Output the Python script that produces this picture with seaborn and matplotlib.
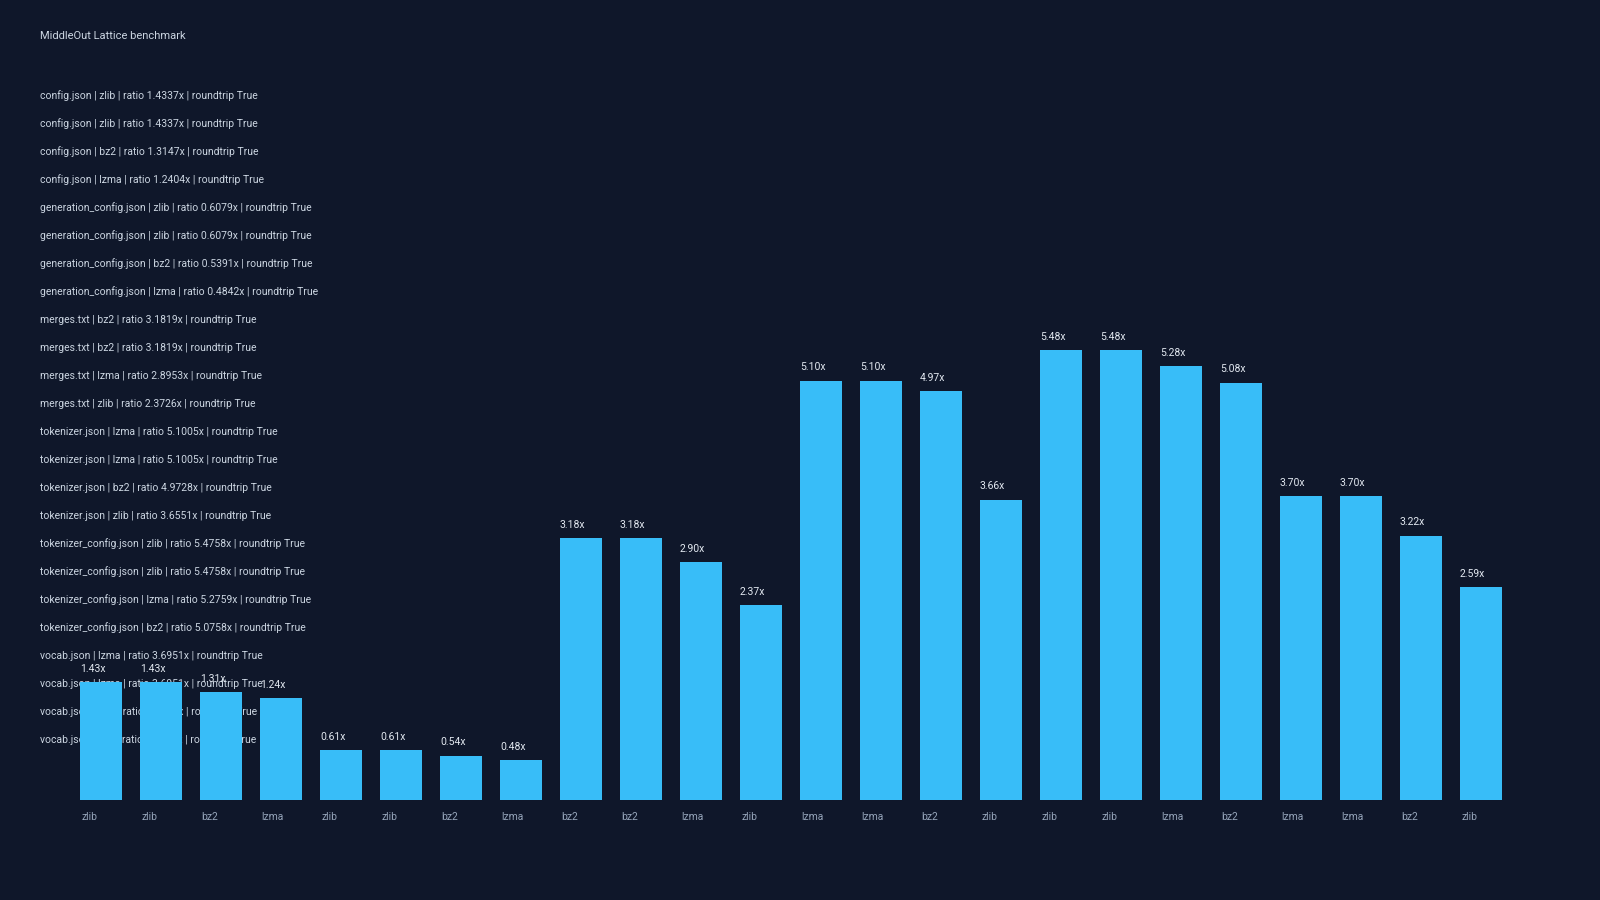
import numpy as np
import pandas as pd
import seaborn as sns
import matplotlib.pyplot as plt

files = ["config.json"] * 4 + ["generation_config.json"] * 4 + ["merges.txt"] * 4 + \
        ["tokenizer.json"] * 4 + ["tokenizer_config.json"] * 4 + ["vocab.json"] * 4
codecs = ["zlib", "zlib", "bz2", "lzma",
          "zlib", "zlib", "bz2", "lzma",
          "bz2", "bz2", "lzma", "zlib",
          "lzma", "lzma", "bz2", "zlib",
          "zlib", "zlib", "lzma", "bz2",
          "lzma", "lzma", "bz2", "zlib"]
ratios = [1.4337, 1.4337, 1.3147, 1.2404,
          0.6079, 0.6079, 0.5391, 0.4842,
          3.1819, 3.1819, 2.8953, 2.3726,
          5.1005, 5.1005, 4.9728, 3.6551,
          5.4758, 5.4758, 5.2759, 5.0758,
          3.6951, 3.6951, 3.2176, 2.5912]
roundtrip = [True] * 24

bg = "#0f172a"
bar_color = "#38bdf8"

sns.set_style("dark")
plt.rcParams["font.family"] = ["Roboto", "DejaVu Sans"]

df = pd.DataFrame({"idx": np.arange(len(ratios)), "ratio": ratios, "codec": codecs})

fig = plt.figure(figsize=(16, 9), dpi=100, facecolor=bg)
ax = fig.add_axes([0, 100 / 900, 1, 800 / 900])
ax.set_facecolor(bg)

sns.barplot(data=df, x="idx", y="ratio", color=bar_color, width=0.71,
            saturation=1, linewidth=0, ax=ax, zorder=2)

px_per_unit = 82.2
ax.set_xlim(-101 / 60, (1600 - 101) / 60)
ax.set_ylim(0, 800 / px_per_unit)

n = len(ratios)
ax.set_xticks(np.arange(n) - 0.33)
ax.set_xticklabels(codecs, ha="left", color="#94a3b8", fontsize=7.5)
ax.tick_params(axis="x", length=0, pad=9)
ax.set_yticks([])
ax.set_xlabel("")
ax.set_ylabel("")
for s in ax.spines.values():
    s.set_visible(False)
ax.grid(False)

for i, r in enumerate(ratios):
    ax.annotate(f"{r:.2f}x", (i - 0.35, r), xytext=(0, 6), textcoords="offset points",
                ha="left", va="bottom", color="#e2e8f0", fontsize=7.5, zorder=3)

fig.text(40 / 1600, 1 - 36 / 900, "MiddleOut Lattice benchmark", color="#cbd5e1",
         fontsize=8, va="center", ha="left")

for k in range(n):
    line = f"{files[k]} | {codecs[k]} | ratio {ratios[k]:.4f}x | roundtrip {roundtrip[k]}"
    ax.text(40 / 1600, (1 - (96 + 28 * k) / 900 - 100 / 900) / (800 / 900), line,
            transform=ax.transAxes, color="#cbd5e1", fontsize=7.5,
            va="center", ha="left", zorder=1)

fig.savefig("out.png", dpi=100, facecolor=bg)
